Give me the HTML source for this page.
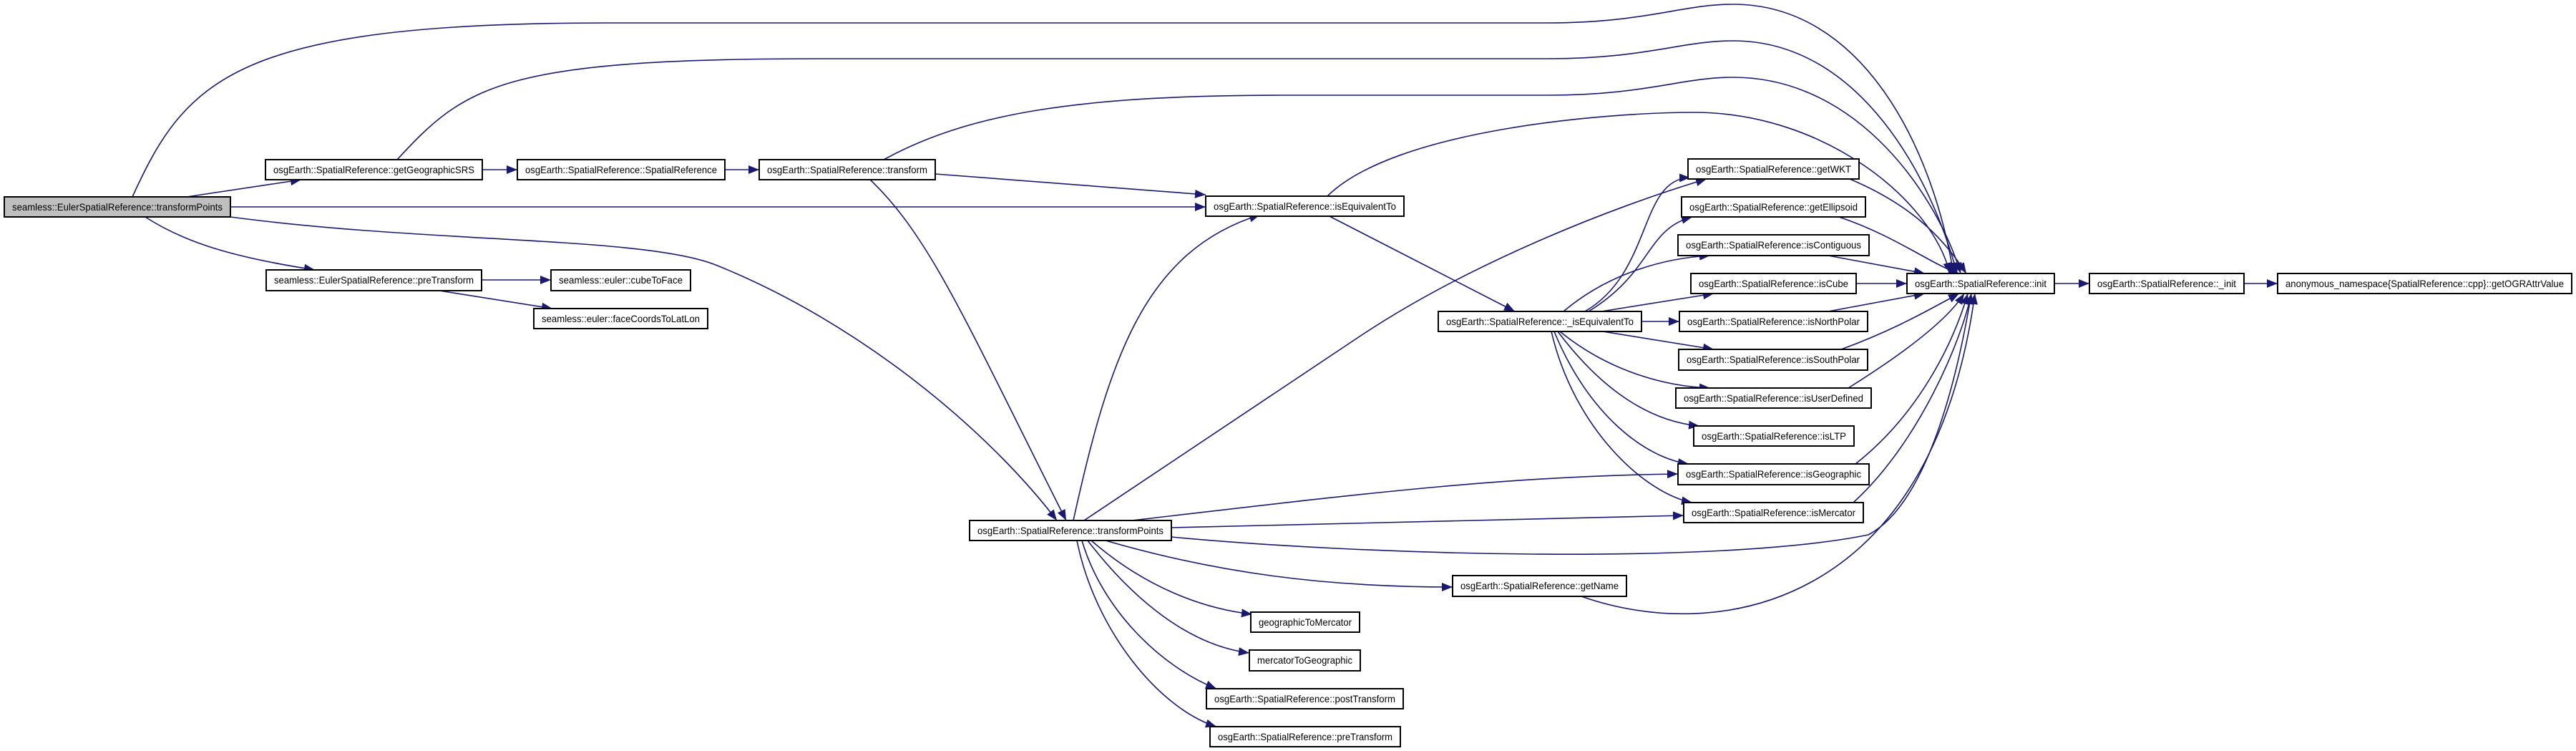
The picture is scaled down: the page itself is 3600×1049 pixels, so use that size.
<!DOCTYPE html>
<html><head><meta charset="utf-8"><style>
html,body{margin:0;padding:0;background:#fff;width:3600px;height:1049px;overflow:hidden}
svg{display:block}
text{font-family:"Liberation Sans",sans-serif;font-size:14px;fill:#000}
.e{fill:none;stroke:#191970;stroke-width:1.6}
.n{fill:#fff;stroke:#000;stroke-width:2}
</style></head><body>
<svg width="3600" height="1049" viewBox="0 0 3600 1049" xmlns="http://www.w3.org/2000/svg">
<defs>
<marker id="a" markerUnits="userSpaceOnUse" markerWidth="16" markerHeight="12" refX="15" refY="6" orient="auto">
<path d="M0,0 L15,6 L0,12 z" fill="#191970"/>
</marker>
</defs>
<g class="e" marker-end="url(#a)">
<path d="M261,275 L421,251"/>
<path d="M322,289 L1685,289"/>
<path d="M185,275 C260,110 330,32 850,32 L2163,32 C2300,32 2350,6 2422,6 C2600,6 2700,200 2730,382"/>
<path d="M203,303 C260,340 330,360 440,377"/>
<path d="M322,303 C600,340 900,330 1000,370 C1200,450 1380,600 1477,727"/>
<path d="M674,237 L723,237"/>
<path d="M1013,237 L1061,237"/>
<path d="M555,223 C650,120 700,82 1146,82 L2163,82 C2300,82 2350,57 2422,57 C2600,57 2700,250 2735,382"/>
<path d="M1235,223 C1350,160 1500,133 1793,133 L2163,133 C2300,133 2350,108 2422,108 C2600,108 2710,280 2740,382"/>
<path d="M1307,243 L1685,272"/>
<path d="M1214,249 C1300,330 1350,450 1490,727"/>
<path d="M1500,727 C1550,500 1600,350 1761,300"/>
<path d="M1854,300 L2117,435"/>
<path d="M1855,274 C1950,180 2250,157 2367,157 C2550,157 2700,280 2725,382"/>
<path d="M1515,727 L1900,470 C2050,370 2250,290 2385,250"/>
<path d="M1582,727 C1900,690 2100,665 2345,662"/>
<path d="M1637,737 L2353,720"/>
<path d="M1637,750 C1900,775 2400,790 2611,747 C2700,700 2740,500 2755,410"/>
<path d="M1545,755 C1700,800 1850,820 2030,820"/>
<path d="M1525,755 C1600,820 1680,850 1750,858"/>
<path d="M1520,755 C1570,820 1650,900 1746,912"/>
<path d="M1512,755 C1540,850 1620,930 1700,962"/>
<path d="M1505,755 C1530,880 1620,990 1700,1015"/>
<path d="M2210,833 C2400,900 2700,850 2760,410"/>
<path d="M673,391 L770,391"/>
<path d="M614,406 L772,431"/>
<path d="M2215,435 C2310,380 2290,250 2362,248"/>
<path d="M2220,435 C2310,380 2300,320 2365,303"/>
<path d="M2185,435 C2250,380 2330,360 2390,357"/>
<path d="M2238,435 L2395,410"/>
<path d="M2294,449 L2347,449"/>
<path d="M2240,463 L2395,488"/>
<path d="M2180,463 C2250,520 2330,540 2390,542"/>
<path d="M2177,463 C2250,560 2320,590 2375,595"/>
<path d="M2172,463 C2220,580 2300,640 2360,648"/>
<path d="M2168,463 C2200,600 2300,690 2365,702"/>
<path d="M2585,250 C2680,290 2720,340 2748,382"/>
<path d="M2570,303 C2650,330 2700,370 2738,382"/>
<path d="M2555,357 L2690,382"/>
<path d="M2594,396 L2665,396"/>
<path d="M2555,435 L2690,410"/>
<path d="M2573,488 C2650,460 2700,430 2738,410"/>
<path d="M2583,542 C2650,500 2720,450 2745,410"/>
<path d="M2593,648 C2680,580 2730,480 2750,410"/>
<path d="M2590,702 C2680,620 2740,480 2755,410"/>
<path d="M2871,396 L2920,396"/>
<path d="M3136,396 L3183,396"/>
</g>
<g>
<rect x="6" y="275" width="316" height="28" fill="#bfbfbf" stroke="#000" stroke-width="2"/>
<text x="17" y="294" textLength="294" lengthAdjust="spacingAndGlyphs">seamless::EulerSpatialReference::transformPoints</text>
<rect class="n" x="371" y="223" width="303" height="28"/><text x="382" y="242" textLength="281" lengthAdjust="spacingAndGlyphs">osgEarth::SpatialReference::getGeographicSRS</text>
<rect class="n" x="723" y="223" width="290" height="28"/><text x="734" y="242" textLength="268" lengthAdjust="spacingAndGlyphs">osgEarth::SpatialReference::SpatialReference</text>
<rect class="n" x="1061" y="223" width="246" height="28"/><text x="1072" y="242" textLength="224" lengthAdjust="spacingAndGlyphs">osgEarth::SpatialReference::transform</text>
<rect class="n" x="1685" y="274" width="277" height="28"/><text x="1696" y="293" textLength="255" lengthAdjust="spacingAndGlyphs">osgEarth::SpatialReference::isEquivalentTo</text>
<rect class="n" x="1355" y="727" width="282" height="28"/><text x="1366" y="746" textLength="260" lengthAdjust="spacingAndGlyphs">osgEarth::SpatialReference::transformPoints</text>
<rect class="n" x="2030" y="804" width="243" height="29"/><text x="2041" y="823" textLength="221" lengthAdjust="spacingAndGlyphs">osgEarth::SpatialReference::getName</text>
<rect class="n" x="1748" y="855" width="152" height="28"/><text x="1759" y="874" textLength="130" lengthAdjust="spacingAndGlyphs">geographicToMercator</text>
<rect class="n" x="1746" y="908" width="155" height="29"/><text x="1757" y="927" textLength="133" lengthAdjust="spacingAndGlyphs">mercatorToGeographic</text>
<rect class="n" x="1686" y="962" width="275" height="28"/><text x="1697" y="981" textLength="253" lengthAdjust="spacingAndGlyphs">osgEarth::SpatialReference::postTransform</text>
<rect class="n" x="1691" y="1015" width="266" height="28"/><text x="1702" y="1034" textLength="244" lengthAdjust="spacingAndGlyphs">osgEarth::SpatialReference::preTransform</text>
<rect class="n" x="372" y="377" width="301" height="29"/><text x="383" y="396" textLength="279" lengthAdjust="spacingAndGlyphs">seamless::EulerSpatialReference::preTransform</text>
<rect class="n" x="770" y="377" width="195" height="29"/><text x="781" y="396" textLength="173" lengthAdjust="spacingAndGlyphs">seamless::euler::cubeToFace</text>
<rect class="n" x="746" y="431" width="243" height="28"/><text x="757" y="450" textLength="221" lengthAdjust="spacingAndGlyphs">seamless::euler::faceCoordsToLatLon</text>
<rect class="n" x="2010" y="435" width="284" height="28"/><text x="2021" y="454" textLength="262" lengthAdjust="spacingAndGlyphs">osgEarth::SpatialReference::_isEquivalentTo</text>
<rect class="n" x="2359" y="222" width="239" height="28"/><text x="2370" y="241" textLength="217" lengthAdjust="spacingAndGlyphs">osgEarth::SpatialReference::getWKT</text>
<rect class="n" x="2350" y="275" width="257" height="28"/><text x="2361" y="294" textLength="235" lengthAdjust="spacingAndGlyphs">osgEarth::SpatialReference::getEllipsoid</text>
<rect class="n" x="2345" y="328" width="267" height="29"/><text x="2356" y="347" textLength="245" lengthAdjust="spacingAndGlyphs">osgEarth::SpatialReference::isContiguous</text>
<rect class="n" x="2363" y="382" width="231" height="28"/><text x="2374" y="401" textLength="209" lengthAdjust="spacingAndGlyphs">osgEarth::SpatialReference::isCube</text>
<rect class="n" x="2347" y="435" width="263" height="28"/><text x="2358" y="454" textLength="241" lengthAdjust="spacingAndGlyphs">osgEarth::SpatialReference::isNorthPolar</text>
<rect class="n" x="2346" y="488" width="264" height="29"/><text x="2357" y="507" textLength="242" lengthAdjust="spacingAndGlyphs">osgEarth::SpatialReference::isSouthPolar</text>
<rect class="n" x="2342" y="542" width="273" height="28"/><text x="2353" y="561" textLength="251" lengthAdjust="spacingAndGlyphs">osgEarth::SpatialReference::isUserDefined</text>
<rect class="n" x="2367" y="595" width="224" height="28"/><text x="2378" y="614" textLength="202" lengthAdjust="spacingAndGlyphs">osgEarth::SpatialReference::isLTP</text>
<rect class="n" x="2345" y="648" width="267" height="29"/><text x="2356" y="667" textLength="245" lengthAdjust="spacingAndGlyphs">osgEarth::SpatialReference::isGeographic</text>
<rect class="n" x="2353" y="702" width="251" height="28"/><text x="2364" y="721" textLength="229" lengthAdjust="spacingAndGlyphs">osgEarth::SpatialReference::isMercator</text>
<rect class="n" x="2665" y="382" width="206" height="28"/><text x="2676" y="401" textLength="184" lengthAdjust="spacingAndGlyphs">osgEarth::SpatialReference::init</text>
<rect class="n" x="2920" y="382" width="216" height="28"/><text x="2931" y="401" textLength="194" lengthAdjust="spacingAndGlyphs">osgEarth::SpatialReference::_init</text>
<rect class="n" x="3183" y="382" width="411" height="28"/><text x="3194" y="401" textLength="389" lengthAdjust="spacingAndGlyphs">anonymous_namespace{SpatialReference::cpp}::getOGRAttrValue</text>
</g>
</svg>
</body></html>
